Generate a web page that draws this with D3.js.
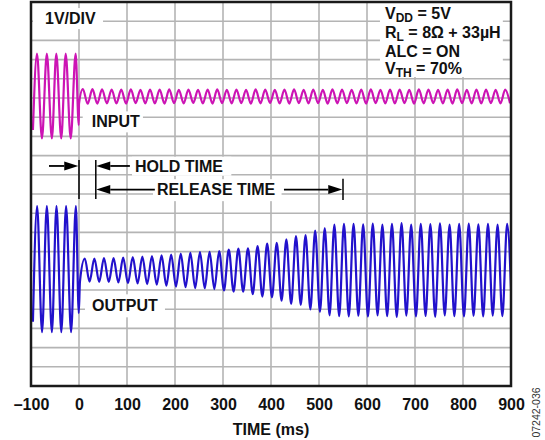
<!DOCTYPE html>
<html><head><meta charset="utf-8">
<script src="https://cdn.jsdelivr.net/npm/d3@7"></script>
<style>
body{margin:0;background:#fff}
svg{display:block}
text{font-family:Arial,"Liberation Sans",Helvetica,sans-serif}
</style>
</head><body>
<svg id="c" width="545" height="440"></svg>
<script>
// ---------------- data ----------------
// time axis (ms) tick labels
const xTicks = [-100, 0, 100, 200, 300, 400, 500, 600, 700, 800, 900];
// vertical scale: 20 divisions, 1 V/DIV, screen volts from -10 (bottom) to +10 (top)
const yDivs = [-9,-8,-7,-6,-5,-4,-3,-2,-1,0,1,2,3,4,5,6,7,8,9];

// signal period seen on both traces (ms)
const period = 20;

// INPUT trace, before t = 0 : [time ms, volts on screen]
const inputPre = [[-96,3.33],[-87.5,7.31],[-77.2,2.89],[-67,7.31],[-56.5,2.89],[-47.3,7.31],
                  [-37,2.89],[-27.7,7.31],[-17.3,2.89],[-7,7.31],[-0.5,3.59]];
// OUTPUT trace, before t = 0
const outputPre = [[-96,-6.65],[-87.3,-0.63],[-77,-7.2],[-67,-0.63],[-56.5,-7.2],[-46.9,-0.63],
                   [-36.9,-7.2],[-26.9,-0.63],[-16.5,-7.2],[-6.5,-0.63],[-0.5,-6.2]];

// after t = 0 : trace centre (V) , time of first peak (ms), amplitude of each cycle (V)
const inputCenter = 5.08;
const inputFirstPeak = 8;
const inputAmp = [0.39,0.38,0.37,0.36,0.36,0.37,0.35,0.36,0.36,0.37,0.35,0.36,0.34,0.36,0.37,
                  0.35,0.36,0.35,0.37,0.36,0.34,0.36,0.37,0.35,0.36,0.35,0.37,0.36,0.35,0.36,
                  0.37,0.35,0.36,0.36,0.35,0.37,0.36,0.35,0.36,0.37,0.35,0.36,0.36,0.35,0.36];

const outputCenter = -3.96;
const outputFirstPeak = 12;
const outputAmp = [0.60,0.60,0.62,0.62,0.65,0.68,0.70,0.73,0.76,0.81,0.86,0.89,0.94,0.95,0.99,
                   1.06,1.12,1.13,1.25,1.38,1.42,1.60,1.77,1.82,2.05,2.18,2.36,2.40,2.41,2.38,
                   2.42,2.36,2.40,2.44,2.37,2.41,2.39,2.43,2.36,2.40,2.42,2.38,2.41,2.37,2.40];

// annotation times (ms)
const holdEnd = 35;
const releaseEnd = 550;

// ---------------- drawing ----------------
const svg = d3.select("#c");
const W = 545, H = 440;
const pL = 31, pR = 511, pT = 2, pB = 386;

const x = d3.scaleLinear().domain([-100, 900]).range([pL, pR]);
const y = d3.scaleLinear().domain([-10, 10]).range([pB, pT]);

svg.append("rect").attr("width", W).attr("height", H).attr("fill", "#fff");

// grid
const grid = svg.append("g").attr("stroke", "#b4b4b4").attr("stroke-width", 1.6);
grid.selectAll("line.v").data(xTicks.slice(1, -1)).join("line").attr("class", "v")
  .attr("x1", d => x(d)).attr("x2", d => x(d)).attr("y1", pT).attr("y2", pB);
grid.selectAll("line.h").data(yDivs).join("line").attr("class", "h")
  .attr("x1", pL).attr("x2", pR).attr("y1", d => y(d)).attr("y2", d => y(d));

// clip
svg.append("clipPath").attr("id", "plot").append("rect")
  .attr("x", pL).attr("y", pT).attr("width", pR - pL).attr("height", pB - pT);

function postPoints(center, firstPeak, amps) {
  const pts = [];
  const t0 = firstPeak - period / 2;
  pts.push([Math.max(0, t0), center - amps[0]]);
  amps.forEach((a, k) => {
    const tp = firstPeak + k * period;
    pts.push([tp, center + a]);
    const next = k + 1 < amps.length ? amps[k + 1] : a;
    pts.push([tp + period / 2, center - next]);
  });
  return pts;
}

const line = d3.line().x(d => x(d[0])).y(d => y(d[1])).curve(d3.curveMonotoneX);

const boxes = svg.append("g");
const texts = svg.append("g");

function boxedText(txt, t, v, pads) {
  const tx = texts.append("text").attr("x", x(t)).attr("y", y(v))
    .attr("font-size", 16).attr("font-weight", "bold").attr("fill", "#111").text(txt);
  const b = tx.node().getBBox();
  boxes.append("rect").attr("x", b.x - pads[0]).attr("y", b.y - pads[2])
    .attr("width", b.width + pads[0] + pads[1]).attr("height", b.height + pads[2] + pads[3])
    .attr("fill", "#fff");
}

boxedText("1V/DIV", -70.8, 8.85, [12, 7, 2, 2]);
boxedText("INPUT", 26.5, 3.47, [9, 3, 2, 2]);
boxedText("OUTPUT", 27, -6.11, [7, 7, 3, 3]);
boxedText("HOLD TIME", 116.7, 1.16, [3, 8, 1, 1]);
boxedText("RELEASE TIME", 162.5, -0.06, [4, 6, 2, 3]);

// legend top-right
const legX = x(637.5);
boxes.append("rect").attr("x", x(627)).attr("y", pT).attr("width", x(883) - x(627)).attr("height", 75).attr("fill", "#fff");
const legLines = [
  ["V", "DD", " = 5V"],
  ["R", "L", " = 8\u03A9 + 33\u00B5H"],
  ["ALC = ON", "", ""],
  ["V", "TH", " = 70%"]
];
const legBase = [9.1, 8.14, 7.15, 6.23];
legLines.forEach((l, i) => {
  const t = texts.append("text").attr("x", legX).attr("y", y(legBase[i]))
    .attr("font-size", 16).attr("font-weight", "bold").attr("fill", "#111");
  t.append("tspan").text(l[0]);
  if (l[1]) {
    t.append("tspan").attr("font-size", 12).attr("dy", 3).text(l[1]);
    t.append("tspan").attr("dy", -3).text(l[2]);
  }
});

// traces
const traces = svg.append("g").attr("clip-path", "url(#plot)").attr("fill", "none")
  .attr("stroke-width", 2.2).attr("stroke-linejoin", "round");
traces.append("path").attr("stroke", "#cc14b4")
  .attr("d", line(inputPre.concat(postPoints(inputCenter, inputFirstPeak, inputAmp))));
traces.append("path").attr("stroke", "#2211cc")
  .attr("d", line(outputPre.concat(postPoints(outputCenter, outputFirstPeak, outputAmp))));

// annotations
const ann = svg.append("g").attr("stroke", "#000").attr("fill", "#000");
function arrow(t1, t2, v) { // tail t1 -> tip t2
  const x1 = x(t1), x2 = x(t2), yy = y(v);
  const dir = x2 > x1 ? 1 : -1;
  const hl = 14, hw = 4.5;
  ann.append("line").attr("x1", x1).attr("x2", x2 - dir * hl).attr("y1", yy).attr("y2", yy)
    .attr("stroke-width", 1.8);
  ann.append("path").attr("stroke", "none")
    .attr("d", `M${x2},${yy}L${x2 - dir * hl},${yy - hw}L${x2 - dir * hl},${yy + hw}Z`);
}
function vtick(t, v1, v2) {
  ann.append("line").attr("x1", x(t)).attr("x2", x(t)).attr("y1", y(v1)).attr("y2", y(v2))
    .attr("stroke-width", 1.5);
}
vtick(0, 1.77, -0.26);
vtick(holdEnd, 1.77, -0.26);
vtick(releaseEnd, 0.8, -0.31);
arrow(-62.5, -1.5, 1.46);
arrow(106, holdEnd + 1, 1.46);
arrow(158, holdEnd + 1, 0.23);
arrow(427, releaseEnd - 1.5, 0.23);

// frame
svg.append("rect").attr("x", pL).attr("y", pT).attr("width", pR - pL).attr("height", pB - pT)
  .attr("fill", "none").attr("stroke", "#1a1a1a").attr("stroke-width", 2.5);

// x axis labels
const ax = svg.append("g").attr("transform", `translate(0,${pB})`)
  .call(d3.axisBottom(x).tickValues(xTicks).tickSize(0).tickPadding(13)
    .tickFormat(d => d < 0 ? "\u2013" + Math.abs(d) : String(d)));
ax.select(".domain").remove();
ax.selectAll("text").attr("font-size", 16).attr("font-weight", "bold").attr("fill", "#111")
  .attr("font-family", "Arial, 'Liberation Sans', sans-serif");

svg.append("text").attr("x", (pL + pR) / 2).attr("y", 434.5).attr("text-anchor", "middle")
  .attr("font-size", 16).attr("font-weight", "bold").attr("fill", "#111").text("TIME (ms)");

svg.append("text").attr("transform", "translate(540,412.5) rotate(-90)").attr("text-anchor", "middle")
  .attr("font-size", 10.5).attr("fill", "#333").text("07242-036");
</script>
</body></html>
